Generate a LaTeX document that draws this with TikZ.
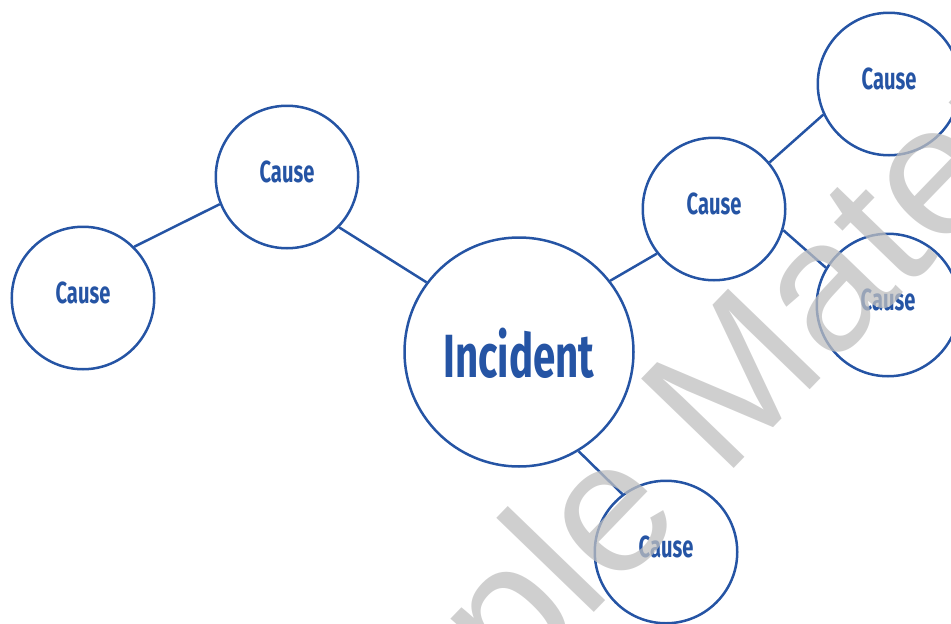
\documentclass[tikz,border=0pt]{standalone}
\usepackage{fontspec}
\newfontfamily\causefont[FakeStretch=0.66]{Fira Sans}
\newfontfamily\wmfont{Liberation Sans}
\definecolor{causeblue}{HTML}{2554A4}

\begin{document}
\begin{tikzpicture}[x=1pt, y=-1pt,
    cause/.style={circle, draw=causeblue, line width=2.5pt, minimum size=142.5pt, inner sep=0pt, text height=21pt, text depth=10pt, text=causeblue, font=\causefont\bfseries\fontsize{30.5pt}{34pt}\selectfont},
    incident/.style={cause, minimum size=229pt, text height=50pt, text depth=0pt, font=\causefont\bfseries\fontsize{61pt}{66pt}\selectfont},
    link/.style={draw=causeblue, line width=2.5pt},
    wmark/.style={rotate=46, inner sep=0pt, text=black!25, text opacity=0.75, font=\wmfont\fontsize{187pt}{200pt}\selectfont}
]
    \useasboundingbox (0,0) rectangle (951,624);
    \clip (0,0) rectangle (951,624);

    % Incident in the middle
    \node[incident] (inc) at (519,352) {Incident};

    % Causes
    \node[cause] (cLeft) at (83,298) {Cause};
    \node[cause] (cUpLeft) at (287,177) {Cause};
    \node[cause] (cMid) at (714,209) {Cause};
    \node[cause] (cTopRight) at (889,84) {Cause};
    \node[cause] (cRight) at (888,305) {Cause};
    \node[cause] (cBottom) at (666,552) {Cause};

    % Connectors
    \draw[link] (cLeft.45) -- (cUpLeft.202);
    \draw[link] (cUpLeft.316) -- (inc.143);
    \draw[link] (inc.38) -- (cMid.218);
    \draw[link] (cMid.40) -- (cTopRight.205);
    \draw[link] (cMid.343) -- (cRight.149);
    \draw[link] (inc.301) -- (cBottom.127);

    % Watermark
    \coordinate (wmBase) at (723,480);
    \node[wmark, anchor=base west] (wmRight) at (wmBase) {Material};
    \node[wmark, anchor=base east] (wmLeft) at ([shift={(-36,37)}]wmBase) {Sample};
\end{tikzpicture}
\end{document}
